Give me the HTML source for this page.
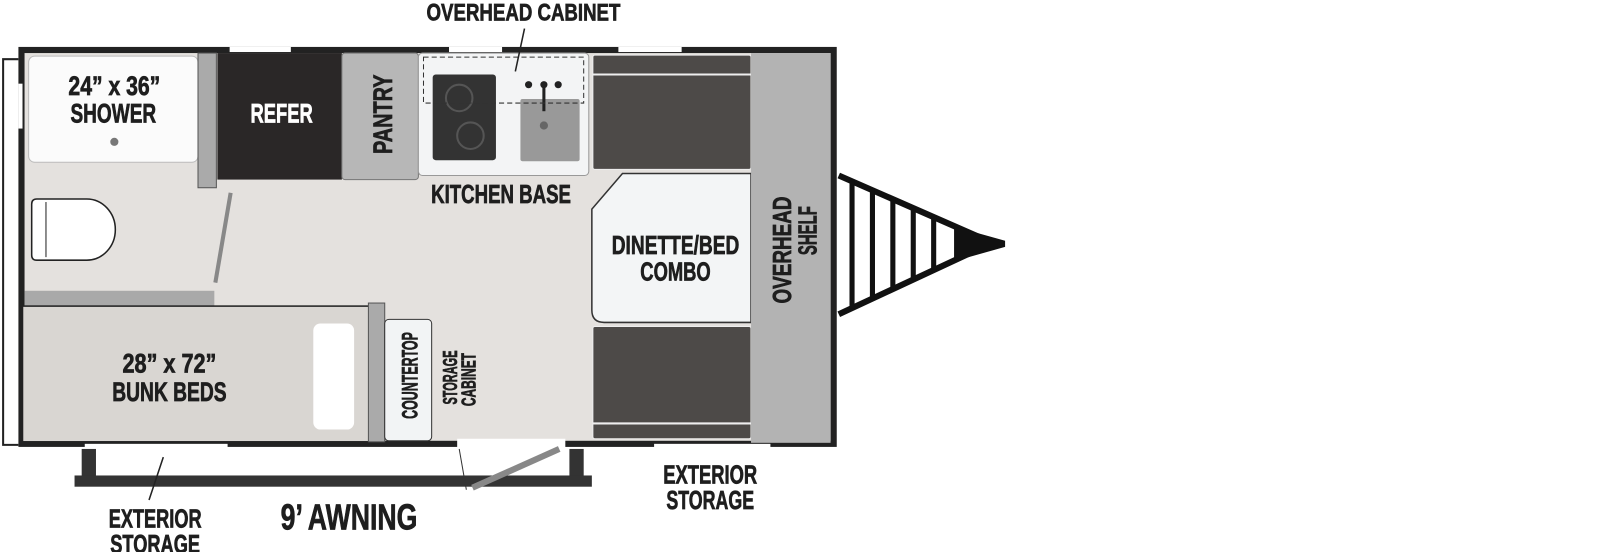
<!DOCTYPE html>
<html><head><meta charset="utf-8"><style>
html,body{margin:0;padding:0;background:#fff;width:1600px;height:552px;overflow:hidden}
text{font-family:"Liberation Sans",sans-serif;font-weight:bold;fill:#1e1e1e;stroke:#1e1e1e;stroke-width:0.7;text-anchor:middle}
</style></head><body>
<svg width="1600" height="552" viewBox="0 0 1568 541" xmlns="http://www.w3.org/2000/svg">
<path d="M18 58 H3 V436 H18" fill="none" stroke="#222" stroke-width="2"/>
<rect x="18" y="46" width="802" height="392" fill="#e4e1de"/>
<rect x="21" y="49" width="796" height="386" fill="none" stroke="#222" stroke-width="6"/>
<rect x="225" y="46" width="60" height="5" fill="#fff"/>
<rect x="440" y="46" width="52" height="5" fill="#fff"/>
<rect x="606" y="46" width="62" height="5" fill="#fff"/>
<rect x="18" y="82" width="4" height="44" fill="#fff"/>
<rect x="28" y="55" width="166" height="104" rx="6" fill="#fbfbfb" stroke="#bbb"/>
<text x="112" y="93" font-size="26" textLength="90" lengthAdjust="spacingAndGlyphs">24” x 36”</text>
<text x="111" y="120" font-size="26" textLength="84" lengthAdjust="spacingAndGlyphs">SHOWER</text>
<circle cx="112" cy="139" r="4" fill="#777"/>
<rect x="194" y="52" width="18" height="132" fill="#aaa" stroke="#555"/>
<rect x="213" y="52" width="122" height="124" fill="#2a2727"/>
<text x="276" y="120" font-size="26" textLength="61" lengthAdjust="spacingAndGlyphs" style="fill:#fff;stroke:#fff">REFER</text>
<rect x="335" y="52" width="75" height="124" rx="3" fill="#b7b7b7" stroke="#777"/>
<text transform="translate(384,112) rotate(-90)" font-size="26" textLength="78" lengthAdjust="spacingAndGlyphs">PANTRY</text>
<rect x="410" y="52" width="167" height="120" rx="4" fill="#f3f4f5" stroke="#999"/>
<rect x="424" y="73" width="62" height="84" rx="3" fill="#333"/>
<circle cx="450" cy="96" r="13" fill="none" stroke="#555" stroke-width="2"/>
<circle cx="461" cy="133" r="13" fill="none" stroke="#555" stroke-width="2"/>
<rect x="510" y="97" width="58" height="61" rx="2" fill="#999"/>
<circle cx="533" cy="123" r="4" fill="#666"/>
<circle cx="518" cy="83" r="3.5" fill="#222"/><circle cx="533" cy="83" r="3.5" fill="#222"/><circle cx="547" cy="83" r="3.5" fill="#222"/>
<line x1="533" y1="83" x2="533" y2="109" stroke="#222" stroke-width="3"/>
<rect x="415" y="56" width="157" height="45" fill="none" stroke="#333" stroke-dasharray="5,3"/>
<text x="491" y="199" font-size="25" textLength="137" lengthAdjust="spacingAndGlyphs">KITCHEN BASE</text>
<text x="513" y="20" font-size="24" textLength="190" lengthAdjust="spacingAndGlyphs">OVERHEAD CABINET</text>
<line x1="514" y1="28" x2="505" y2="70" stroke="#222" stroke-width="1.5"/>
<rect x="581" y="54" width="155" height="112" rx="2" fill="#4d4a48" stroke="#eee"/>
<line x1="581" y1="73" x2="736" y2="73" stroke="#eee" stroke-width="2"/>
<path d="M610 170 H736 V316 H592 Q580 316 580 304 V205 Z" fill="#f3f5f6" stroke="#333" stroke-width="1.5"/>
<text x="662" y="249" font-size="25" textLength="125" lengthAdjust="spacingAndGlyphs">DINETTE/BED</text>
<text x="662" y="275" font-size="25" textLength="69" lengthAdjust="spacingAndGlyphs">COMBO</text>
<rect x="581" y="320" width="155" height="110" rx="2" fill="#4d4a48" stroke="#eee"/>
<line x1="581" y1="415" x2="736" y2="415" stroke="#eee" stroke-width="2"/>
<rect x="736" y="52" width="78" height="382" fill="#b3b3b3"/>
<text transform="translate(775,245) rotate(-90)" font-size="25" textLength="105" lengthAdjust="spacingAndGlyphs">OVERHEAD</text>
<text transform="translate(800,226) rotate(-90)" font-size="25" textLength="48" lengthAdjust="spacingAndGlyphs">SHELF</text>
<path d="M822 172 L968 236 L968 240 L822 308" fill="none" stroke="#111" stroke-width="6"/>
<path d="M935 222 L985 236 L985 242 L935 256 Z" fill="#111"/>
<g stroke="#111" stroke-width="5">
<line x1="835" y1="176" x2="835" y2="302"/><line x1="855" y1="185" x2="855" y2="293"/>
<line x1="875" y1="194" x2="875" y2="284"/><line x1="895" y1="203" x2="895" y2="275"/>
<line x1="915" y1="212" x2="915" y2="266"/>
</g>
<path d="M36 195 H85 A28 30 0 0 1 85 255 H36 Q31 255 31 250 V200 Q31 195 36 195 Z" fill="#fff" stroke="#222" stroke-width="1.5"/>
<line x1="45" y1="198" x2="45" y2="252" stroke="#222"/>
<line x1="226" y1="189" x2="211" y2="277" stroke="#888" stroke-width="4"/>
<rect x="24" y="285" width="186" height="15" fill="#a9a9a9"/>
<rect x="22" y="300" width="340" height="133" fill="#d9d6d2" stroke="#222" stroke-width="1.5"/>
<rect x="307" y="317" width="40" height="104" rx="7" fill="#fff"/>
<text x="166" y="365" font-size="26" textLength="92" lengthAdjust="spacingAndGlyphs">28” x 72”</text>
<text x="166" y="393" font-size="26" textLength="112" lengthAdjust="spacingAndGlyphs">BUNK BEDS</text>
<rect x="361" y="297" width="16" height="136" fill="#aaa" stroke="#555"/>
<rect x="377" y="313" width="46" height="119" rx="4" fill="#f2f4f5" stroke="#333"/>
<text transform="translate(409,368) rotate(-90)" font-size="22" textLength="85" lengthAdjust="spacingAndGlyphs">COUNTERTOP</text>
<text transform="translate(448,370) rotate(-90)" font-size="20" textLength="53" lengthAdjust="spacingAndGlyphs">STORAGE</text>
<text transform="translate(466,372) rotate(-90)" font-size="20" textLength="52" lengthAdjust="spacingAndGlyphs">CABINET</text>
<rect x="448" y="430" width="106" height="12" fill="#fff"/>
<rect x="83" y="435" width="140" height="5" fill="#fff"/>
<rect x="641" y="435" width="114" height="5" fill="#fff"/>
<rect x="80" y="440" width="14" height="28" fill="#333"/>
<rect x="558" y="440" width="14" height="28" fill="#333"/>
<rect x="73" y="466" width="507" height="11" fill="#333"/>
<line x1="463" y1="478" x2="548" y2="440" stroke="#888" stroke-width="6"/>
<line x1="450" y1="440" x2="457" y2="480" stroke="#333" stroke-width="1"/>
<line x1="160" y1="448" x2="146" y2="490" stroke="#222" stroke-width="1.5"/>
<text x="152" y="517" font-size="25" textLength="91" lengthAdjust="spacingAndGlyphs">EXTERIOR</text>
<text x="152" y="542" font-size="25" textLength="88" lengthAdjust="spacingAndGlyphs">STORAGE</text>
<text x="342" y="519" font-size="35" textLength="134" lengthAdjust="spacingAndGlyphs">9’ AWNING</text>
<text x="696" y="474" font-size="25" textLength="92" lengthAdjust="spacingAndGlyphs">EXTERIOR</text>
<text x="696" y="499" font-size="25" textLength="86" lengthAdjust="spacingAndGlyphs">STORAGE</text>
</svg>
</body></html>
